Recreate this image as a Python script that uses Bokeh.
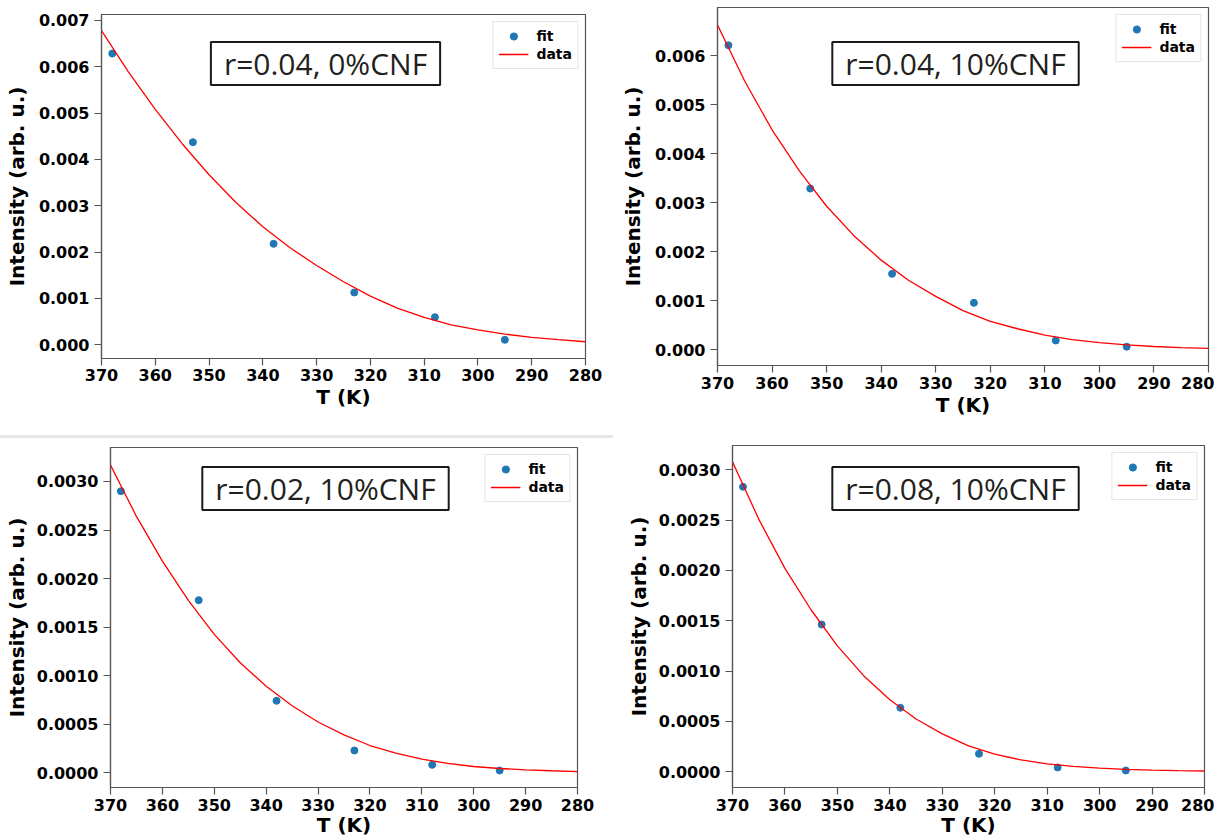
from bokeh.plotting import figure
from bokeh.layouts import column, row
from bokeh.models import Range1d, FixedTicker, NumeralTickFormatter, Label, Spacer
from bokeh.embed import file_html
from bokeh.resources import INLINE

# ---------------- data ----------------
T_FIT = [368, 353, 338, 323, 308, 295]
T_LINE = [370, 365, 360, 355, 350, 345, 340, 335, 330, 325,
          320, 315, 310, 305, 300, 295, 290, 285, 280]
X_TICKS = [370, 360, 350, 340, 330, 320, 310, 300, 290, 280]

# r=0.04, 0%CNF
FIT_A = [6.287e-3, 4.373e-3, 2.180e-3, 1.129e-3, 0.596e-3, 0.108e-3]
LINE_A = [6.78e-3, 5.89e-3, 5.08e-3, 4.34e-3, 3.67e-3, 3.07e-3, 2.55e-3, 2.10e-3,
          1.71e-3, 1.36e-3, 1.05e-3, 0.79e-3, 0.59e-3, 0.43e-3, 0.32e-3, 0.23e-3,
          0.16e-3, 0.11e-3, 0.066e-3]
# r=0.04, 10%CNF
FIT_B = [6.216e-3, 3.292e-3, 1.551e-3, 0.959e-3, 0.190e-3, 0.064e-3]
LINE_B = [6.63e-3, 5.48e-3, 4.49e-3, 3.65e-3, 2.93e-3, 2.33e-3, 1.83e-3, 1.42e-3,
          1.09e-3, 0.80e-3, 0.58e-3, 0.43e-3, 0.30e-3, 0.21e-3, 0.145e-3, 0.10e-3,
          0.068e-3, 0.046e-3, 0.028e-3]
# r=0.02, 10%CNF
FIT_C = [2.900e-3, 1.777e-3, 0.741e-3, 0.229e-3, 0.081e-3, 0.023e-3]
LINE_C = [3.17e-3, 2.64e-3, 2.18e-3, 1.776e-3, 1.425e-3, 1.132e-3, 0.891e-3, 0.690e-3,
          0.522e-3, 0.390e-3, 0.280e-3, 0.201e-3, 0.139e-3, 0.095e-3, 0.064e-3, 0.043e-3,
          0.030e-3, 0.020e-3, 0.012e-3]
# r=0.08, 10%CNF
FIT_D = [2.831e-3, 1.463e-3, 0.636e-3, 0.179e-3, 0.043e-3, 0.013e-3]
LINE_D = [3.08e-3, 2.51e-3, 2.02e-3, 1.607e-3, 1.251e-3, 0.955e-3, 0.715e-3, 0.524e-3,
          0.377e-3, 0.258e-3, 0.175e-3, 0.118e-3, 0.079e-3, 0.053e-3, 0.036e-3, 0.025e-3,
          0.017e-3, 0.012e-3, 0.008e-3]

Y_TICKS_A = [0.000, 0.001, 0.002, 0.003, 0.004, 0.005, 0.006, 0.007]
Y_TICKS_B = [0.000, 0.001, 0.002, 0.003, 0.004, 0.005, 0.006]
Y_TICKS_C = [0.0000, 0.0005, 0.0010, 0.0015, 0.0020, 0.0025, 0.0030]

TAGS = ["r=0.04, 0%CNF", "r=0.04, 10%CNF", "r=0.02, 10%CNF", "r=0.08, 10%CNF"]
X_TITLE = "T (K)"
Y_TITLE = "Intensity (arb. u.)"
SERIES_POINTS = "fit"
SERIES_LINE = "data"

# ---------------- styling ----------------
SPINE = "#555555"
BLUE = "#1f77b4"
RED = "#ff0000"
FONT = "DejaVu Sans"


def make_panel(fit_vals, line_vals, y_ticks, y_fmt, y_rng, tag, size, borders,
               tag_pos, ylab_standoff, x_axis_style):
    w, h = size
    bl, br, bt, bb = borders
    tick_out, lab_standoff, title_standoff = x_axis_style
    p = figure(width=w, height=h, x_range=Range1d(370, 280),
               y_range=Range1d(*y_rng), output_backend="svg",
               toolbar_location=None, min_border_left=bl, min_border_right=br,
               min_border_top=bt, min_border_bottom=bb, frame_align=False,
               background_fill_color="white", border_fill_color="white")
    p.grid.visible = False
    p.outline_line_color = SPINE
    p.outline_line_width = 1.2

    for ax in (p.xaxis[0], p.yaxis[0]):
        ax.axis_line_color = SPINE
        ax.axis_line_width = 1.2
        ax.major_tick_line_color = SPINE
        ax.major_tick_line_width = 1.2
        ax.major_tick_in = 0
        ax.major_tick_out = 7
        ax.minor_tick_line_color = None
        ax.major_label_text_font = FONT
        ax.major_label_text_font_style = "bold"
        ax.major_label_text_font_size = "16px"
        ax.major_label_text_color = "black"
        ax.axis_label_text_font = FONT
        ax.axis_label_text_font_style = "bold"
        ax.axis_label_text_font_size = "20px"
        ax.axis_label_text_color = "black"

    xa = p.xaxis[0]
    xa.ticker = FixedTicker(ticks=X_TICKS)
    xa.major_tick_out = tick_out
    xa.major_label_standoff = lab_standoff
    xa.axis_label = X_TITLE
    xa.axis_label_standoff = title_standoff

    ya = p.yaxis[0]
    ya.ticker = FixedTicker(ticks=y_ticks)
    ya.formatter = NumeralTickFormatter(format=y_fmt)
    ya.major_label_standoff = 5
    ya.axis_label = Y_TITLE
    ya.axis_label_standoff = ylab_standoff

    p.scatter(T_FIT, fit_vals, size=7, fill_color=BLUE, line_color=BLUE,
              legend_label=SERIES_POINTS)
    p.line(T_LINE, line_vals, line_color=RED, line_width=1.3,
           legend_label=SERIES_LINE)

    lg = p.legend[0]
    lg.location = "top_right"
    lg.margin = 7
    lg.padding = 5
    lg.spacing = 0
    lg.glyph_width = 30
    lg.glyph_height = 18
    lg.label_height = 18
    lg.label_standoff = 8
    lg.label_text_font = FONT
    lg.label_text_font_style = "bold"
    lg.label_text_font_size = "14px"
    lg.label_text_color = "black"
    lg.border_line_color = "#cccccc"
    lg.border_line_width = 1
    lg.background_fill_color = "white"

    tx, ty = tag_pos
    p.add_layout(Label(x=tx, y=ty, x_units="screen", y_units="screen", text=tag,
                       text_font="Open Sans", text_font_size="30px",
                       text_color="#231f20", text_align="center",
                       text_baseline="middle", border_line_color="#1a1a1a",
                       border_line_width=2, background_fill_color="white",
                       padding=(13, 1)))
    return p


TOP_AXIS_A = (7, 3, 1)
TOP_AXIS_B = (7, 4, 1)
BOTTOM_AXIS = (7, 4, -1)

p1 = make_panel(FIT_A, LINE_A, Y_TICKS_A, "0.000", (-0.000296, 0.007129), TAGS[0],
                (616, 420), (101, 31, 14, 62), (224, 295), 7, TOP_AXIS_A)
p2 = make_panel(FIT_B, LINE_B, Y_TICKS_B, "0.000", (-0.00032, 0.006986), TAGS[1],
                (598, 420), (101, 6, 7, 55), (238, 302), 7, TOP_AXIS_B)
p3 = make_panel(FIT_C, LINE_C, Y_TICKS_C, "0.0000", (-0.0001525, 0.00335), TAGS[2],
                (622, 401), (110, 45, 9, 52), (215, 299), 5, BOTTOM_AXIS)
p4 = make_panel(FIT_D, LINE_D, Y_TICKS_C, "0.0000", (-0.000156, 0.003241), TAGS[3],
                (592, 401), (110, 10, 7, 52), (223, 299), 5, BOTTOM_AXIS)

# thin light separator between the two rows (as in the composed reference)
separator = Spacer(width=613, height=3, margin=(15, 0, 0, 0), background="#e6e6e6")

layout = column(row(p1, p2), separator, row(p3, p4))

open("out.html", "w").write(file_html(layout, INLINE))
